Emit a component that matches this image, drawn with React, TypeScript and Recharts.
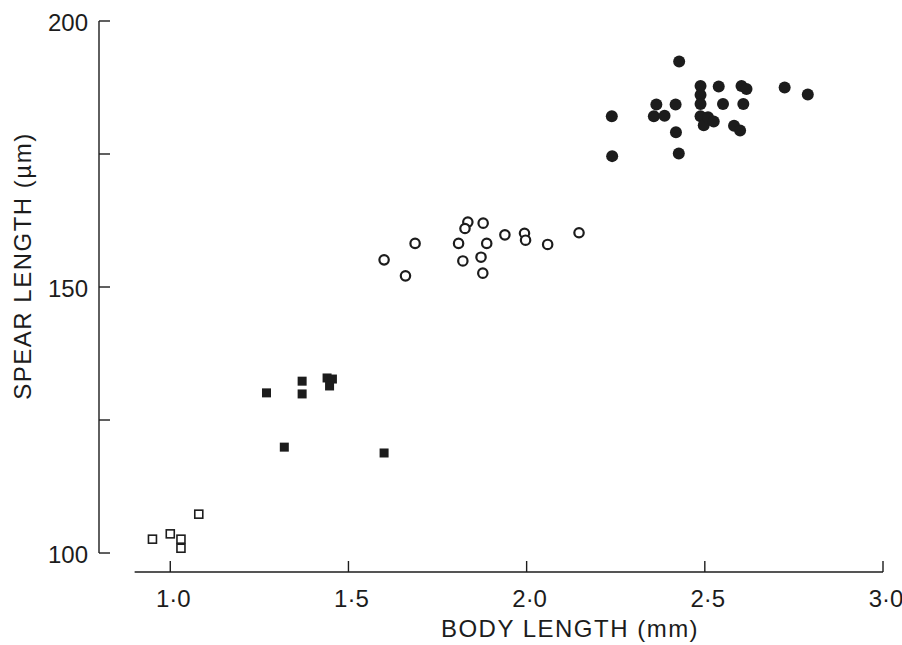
import React from 'react';
import {
  ScatterChart,
  Scatter,
  XAxis,
  YAxis,
  ReferenceLine,
} from 'recharts';

// body length (mm) vs spear length (µm), four groups
const openSquareX = [0.95, 1.0, 1.03, 1.03, 1.08];
const openSquareY = [102.6, 103.6, 102.6, 100.9, 107.3];

const filledSquareX = [1.27, 1.32, 1.37, 1.37, 1.44, 1.455, 1.447, 1.6];
const filledSquareY = [130.1, 119.9, 132.3, 129.9, 132.9, 132.7, 131.4, 118.8];

const openCircleX = [1.6, 1.66, 1.687, 1.809, 1.835, 1.827, 1.878, 1.821, 1.888, 1.872, 1.877, 1.939, 1.994, 1.997, 2.059, 2.147];
const openCircleY = [155.1, 152.1, 158.2, 158.2, 162.2, 161.0, 162.0, 154.9, 158.2, 155.6, 152.6, 159.8, 160.1, 158.8, 158.0, 160.2];

const filledCircleX = [2.239, 2.24, 2.364, 2.357, 2.387, 2.418, 2.419, 2.428, 2.427, 2.488, 2.488, 2.488, 2.488, 2.497, 2.509, 2.525, 2.539, 2.551, 2.603, 2.617, 2.608, 2.582, 2.599, 2.724, 2.789];
const filledCircleY = [182.1, 174.6, 184.3, 182.1, 182.2, 184.3, 179.1, 192.4, 175.1, 187.8, 186.1, 184.4, 182.1, 180.4, 181.9, 181.1, 187.7, 184.4, 187.8, 187.2, 184.4, 180.3, 179.4, 187.5, 186.2];

const xTicks = [1.0, 1.5, 2.0, 2.5, 3.0];
const yTicks = [100, 125, 150, 175, 200];
const yLabelled = [100, 150, 200];

const X_MIN = 0.8;
const X_LINE_START = 0.9;
const X_MAX = 3.0;
const Y_MIN = 96.43;

const ink = '#1c1c1c';
const font = '"Liberation Sans", Arial, sans-serif';

const toPoints = (xs: number[], ys: number[]) => xs.map((x, i) => ({ x, y: ys[i] }));

// ticks point inwards, labels sit outside the axis
const renderXTick = ({ x, y, payload }: any) => (
  <g key={`xt-${payload.value}`}>
    <line x1={x} y1={y} x2={x} y2={y - 11} stroke={ink} strokeWidth={1.4} />
    <text x={x + 3} y={y + 35} textAnchor="middle" fontSize={24} fill={ink} fontFamily={font}>
      {payload.value.toFixed(1).replace('.', '·')}
    </text>
  </g>
);

const renderYTick = ({ x, y, payload }: any) => (
  <g key={`yt-${payload.value}`}>
    <line x1={x} y1={y} x2={x + 11} y2={y} stroke={ink} strokeWidth={1.4} />
    {yLabelled.includes(payload.value) && (
      <text x={x - 11} y={y + 10} textAnchor="end" fontSize={24} fill={ink} fontFamily={font}>
        {payload.value}
      </text>
    )}
  </g>
);

const openSquare = ({ cx, cy }: any) => (
  <rect x={cx - 4} y={cy - 4} width={8} height={8} fill="#fff" stroke={ink} strokeWidth={1.6} />
);
const filledSquare = ({ cx, cy }: any) => (
  <rect x={cx - 4.5} y={cy - 4.5} width={9} height={9} fill={ink} />
);
const openCircle = ({ cx, cy }: any) => (
  <circle cx={cx} cy={cy} r={4.7} fill="#fff" stroke={ink} strokeWidth={2.2} />
);
const filledCircle = ({ cx, cy }: any) => (
  <circle cx={cx} cy={cy} r={6} fill={ink} />
);

export default function App() {
  return (
    <div style={{ position: 'absolute', left: 0, top: 0, background: '#fff' }}>
      <ScatterChart
        width={902}
        height={645}
        margin={{ top: 21, right: 19, bottom: 0, left: 0 }}
      >
        <XAxis
          type="number"
          dataKey="x"
          domain={[X_MIN, X_MAX]}
          ticks={xTicks}
          interval={0}
          height={73}
          axisLine={false}
          tickLine={false}
          tickSize={0}
          tickMargin={0}
          tick={renderXTick}
          allowDataOverflow
        />
        <YAxis
          type="number"
          dataKey="y"
          domain={[Y_MIN, 200]}
          ticks={yTicks}
          interval={0}
          width={99}
          axisLine={false}
          tickLine={false}
          tickSize={0}
          tickMargin={0}
          tick={renderYTick}
          allowDataOverflow
        />
        <ReferenceLine
          segment={[{ x: X_MIN, y: 100 }, { x: X_MIN, y: 200 }]}
          stroke={ink}
          strokeWidth={1.4}
          ifOverflow="visible"
        />
        <ReferenceLine
          segment={[{ x: X_LINE_START, y: Y_MIN }, { x: X_MAX, y: Y_MIN }]}
          stroke={ink}
          strokeWidth={1.4}
          ifOverflow="visible"
        />
        <Scatter data={toPoints(openSquareX, openSquareY)} shape={openSquare} isAnimationActive={false} />
        <Scatter data={toPoints(filledSquareX, filledSquareY)} shape={filledSquare} isAnimationActive={false} />
        <Scatter data={toPoints(openCircleX, openCircleY)} shape={openCircle} isAnimationActive={false} />
        <Scatter data={toPoints(filledCircleX, filledCircleY)} shape={filledCircle} isAnimationActive={false} />
        <text
          x={570}
          y={637}
          textAnchor="middle"
          fontSize={24}
          letterSpacing={1.5}
          fill={ink}
          fontFamily={font}
        >
          BODY LENGTH (mm)
        </text>
        <text
          x={31}
          y={266}
          transform="rotate(-90 31 266)"
          textAnchor="middle"
          fontSize={24}
          letterSpacing={1.5}
          fill={ink}
          fontFamily={font}
        >
          SPEAR LENGTH (µm)
        </text>
      </ScatterChart>
    </div>
  );
}
